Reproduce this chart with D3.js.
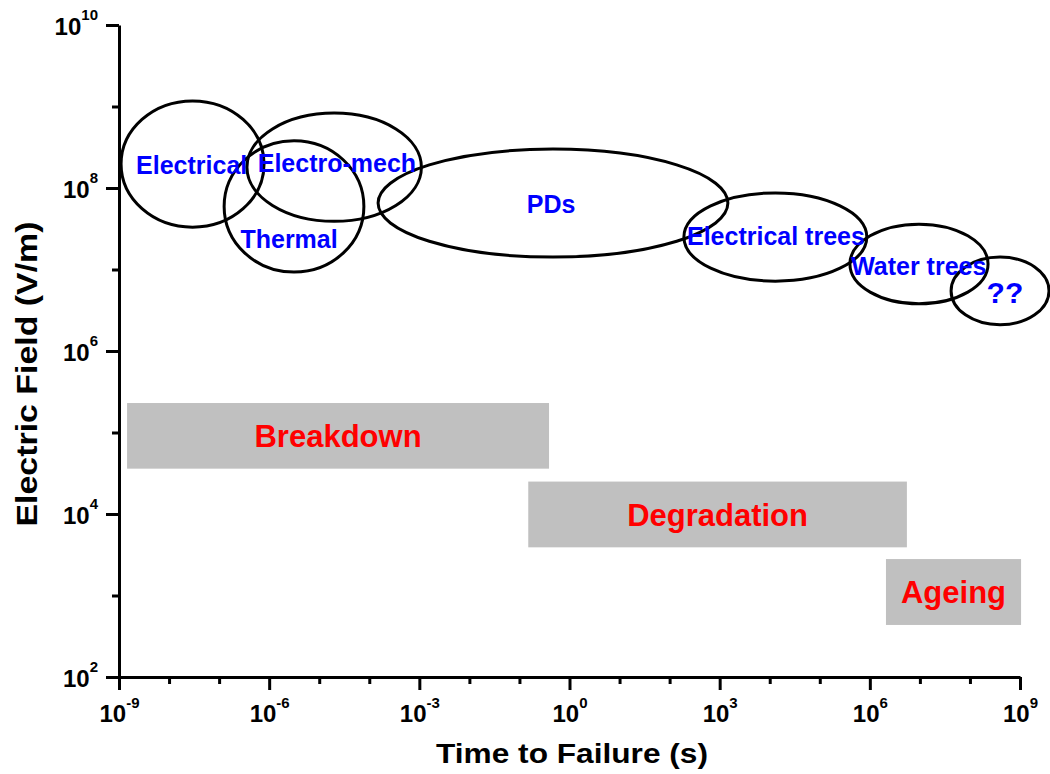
<!DOCTYPE html>
<html lang="en">
<head>
<meta charset="UTF-8">
<title>Time to failure vs electric field</title>
<script src="https://d3js.org/d3.v7.min.js"></script>
<style>
    body { margin: 0; background: #fff; }
    text { font-family: "Liberation Sans", Arial, sans-serif; font-weight: bold; }
    .axis path, .axis line { stroke: #000; stroke-width: 3px; }
    .axis text { fill: #000; font-size: 24px; }
    .mech { fill: none; stroke: #000; stroke-width: 3px; }
    .mech-label { fill: #0000ff; font-size: 25px; text-anchor: middle; }
    .regime { fill: #c0c0c0; }
    .regime-label { fill: #ff0000; font-size: 31px; text-anchor: middle; }
</style>
</head>
<body>
<div id="container"></div>
<script>
// failure mechanisms (ellipses): time range (s) and field range (V/m)
const mechanisms = ["Electrical", "Electro-mech", "Thermal", "PDs", "Electrical trees", "Water trees", "??"];
const mechTimeMin = [1.1e-9, 3.6e-7, 1.26e-7, 1.5e-4, 193, 4.0e5, 4.2e7];
const mechTimeMax = [7.9e-7, 1.1e-3, 7.8e-5, 1.46e3, 8.7e5, 2.3e8, 3.8e9];
const mechFieldMin = [3.3e7, 3.9e7, 9.3e6, 1.42e7, 7.2e6, 3.8e6, 2.1e6];
const mechFieldMax = [1.17e9, 8.3e8, 3.8e8, 3.0e8, 8.7e7, 3.6e7, 1.42e7];
const labelTime = [2.83e-8, 2.26e-5, 2.5e-6, 0.43, 1.33e4, 9.5e6, 5.0e8];
const labelField = [1.9e8, 2.0e8, 2.39e7, 6.3e7, 2.59e7, 1.11e7, 5.2e6];

// regimes (grey boxes)
const regimes = ["Breakdown", "Degradation", "Ageing"];
const regimeTimeMin = [1.45e-9, 0.15, 2.1e6];
const regimeTimeMax = [0.39, 5.5e6, 1.05e9];
const regimeFieldMin = [3.6e4, 3.9e3, 435];
const regimeFieldMax = [2.3e5, 2.5e4, 2.8e3];

// axes
const xMajor = [1e-9, 1e-6, 1e-3, 1e0, 1e3, 1e6, 1e9];
const xMinor = [1e-8, 1e-7, 1e-5, 1e-4, 1e-2, 1e-1, 1e1, 1e2, 1e4, 1e5, 1e7, 1e8];
const yMajor = [1e2, 1e4, 1e6, 1e8, 1e10];
const yMinor = [1e3, 1e5, 1e7, 1e9];

const margin = { top: 25, right: 30, bottom: 97, left: 119 },
    width = 1050 - margin.left - margin.right,
    height = 774 - margin.top - margin.bottom;

const svg = d3.select("#container").append("svg")
    .attr("width", 1050)
    .attr("height", 774)
    .append("g")
    .attr("transform", "translate(" + margin.left + "," + margin.top + ")");

const x = d3.scaleLog().domain([1e-9, 1e9]).range([0, 901]);
const y = d3.scaleLog().domain([1e2, 1e10]).range([height, 0]);

// grey regime boxes
const regimeData = regimes.map(function (d, i) {
    return { name: d, t0: regimeTimeMin[i], t1: regimeTimeMax[i], e0: regimeFieldMin[i], e1: regimeFieldMax[i] };
});

svg.append("g").selectAll("rect")
    .data(regimeData)
    .enter().append("rect")
    .attr("class", "regime")
    .attr("x", function (d) { return x(d.t0); })
    .attr("y", function (d) { return y(d.e1); })
    .attr("width", function (d) { return x(d.t1) - x(d.t0); })
    .attr("height", function (d) { return y(d.e0) - y(d.e1); });

svg.append("g").selectAll("text")
    .data(regimeData)
    .enter().append("text")
    .attr("class", "regime-label")
    .attr("x", function (d) { return (x(d.t0) + x(d.t1)) / 2; })
    .attr("y", function (d) { return (y(d.e0) + y(d.e1)) / 2; })
    .attr("dy", "0.36em")
    .text(function (d) { return d.name; });

// mechanism ellipses
const mechData = mechanisms.map(function (d, i) {
    return {
        name: d, t0: mechTimeMin[i], t1: mechTimeMax[i], e0: mechFieldMin[i], e1: mechFieldMax[i],
        lt: labelTime[i], le: labelField[i]
    };
});

svg.append("g").selectAll("ellipse")
    .data(mechData)
    .enter().append("ellipse")
    .attr("class", "mech")
    .attr("cx", function (d) { return (x(d.t0) + x(d.t1)) / 2; })
    .attr("cy", function (d) { return (y(d.e0) + y(d.e1)) / 2; })
    .attr("rx", function (d) { return (x(d.t1) - x(d.t0)) / 2; })
    .attr("ry", function (d) { return (y(d.e0) - y(d.e1)) / 2; });

svg.append("g").selectAll("text")
    .data(mechData)
    .enter().append("text")
    .attr("class", "mech-label")
    .attr("x", function (d) { return x(d.lt); })
    .attr("y", function (d) { return y(d.le); })
    .attr("dy", "0.36em")
    .style("font-size", function (d) { return d.name == "??" ? "30px" : null; })
    .text(function (d) { return d.name; });

// power-of-ten labels
function powLabel(sel, raise) {
    sel.selectAll(".tick text").each(function (d) {
        const t = d3.select(this).text(null);
        t.append("tspan").text("10");
        t.append("tspan")
            .attr("dy", -raise)
            .style("font-size", "15px")
            .text(Math.round(Math.log10(d)));
    });
}

// x axis
const xAxisG = svg.append("g")
    .attr("class", "axis")
    .attr("transform", "translate(0," + height + ")");

xAxisG.append("g")
    .call(d3.axisBottom(x).tickValues(xMinor).tickSize(7).tickSizeOuter(0).tickFormat(""))
    .select(".domain").remove();

const xMain = xAxisG.append("g")
    .call(d3.axisBottom(x).tickValues(xMajor).tickSize(13).tickSizeOuter(0));
powLabel(xMain, 14);
xMain.selectAll(".tick text").attr("dy", "0").attr("y", 45);

// y axis
const yAxisG = svg.append("g").attr("class", "axis");

yAxisG.append("g")
    .call(d3.axisLeft(y).tickValues(yMinor).tickSize(7).tickSizeOuter(0).tickFormat(""))
    .select(".domain").remove();

const yMain = yAxisG.append("g")
    .call(d3.axisLeft(y).tickValues(yMajor).tickSize(13).tickSizeOuter(0).tickPadding(8));
yMain.selectAll(".tick text").attr("dy", "0").attr("y", 9);
powLabel(yMain, 15);

// axis titles
svg.append("text")
    .attr("x", 453)
    .attr("y", 738)
    .attr("text-anchor", "middle")
    .attr("textLength", 272)
    .attr("lengthAdjust", "spacingAndGlyphs")
    .style("font-size", "28px")
    .text("Time to Failure (s)");

svg.append("text")
    .attr("transform", "translate(-82," + 349 + ") rotate(-90)")
    .attr("text-anchor", "middle")
    .attr("textLength", 305)
    .attr("lengthAdjust", "spacingAndGlyphs")
    .style("font-size", "30px")
    .text("Electric Field (V/m)");
</script>
</body>
</html>
